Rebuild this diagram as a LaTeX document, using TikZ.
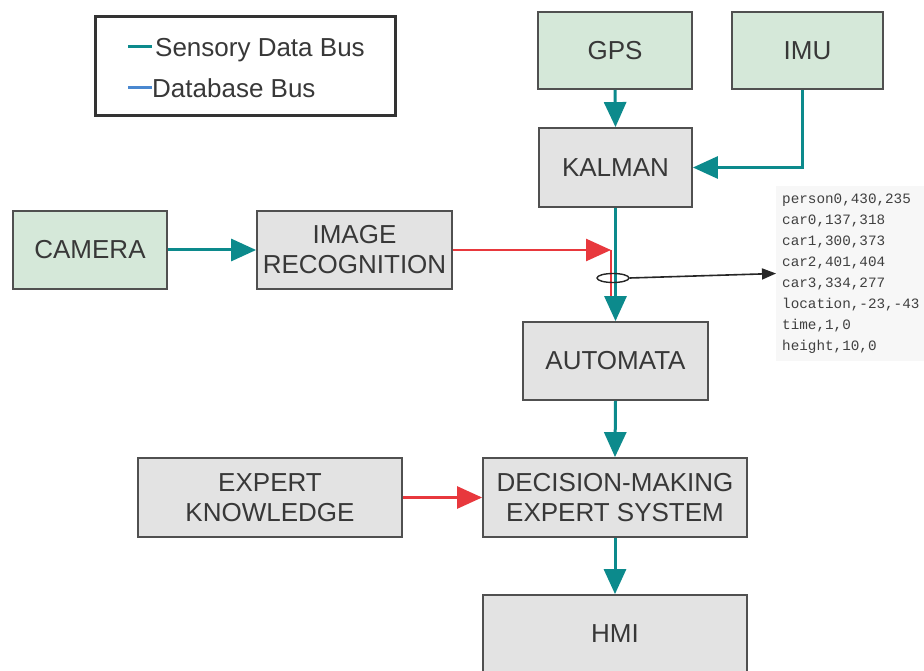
\documentclass[tikz,border=0pt]{standalone}
\usepackage{fontspec}
\setmainfont{Liberation Sans}
\newfontfamily\codefont{Liberation Mono}
\usetikzlibrary{arrows.meta,shapes.geometric}

\definecolor{busteal}{HTML}{0C8A8C}
\definecolor{busred}{HTML}{E8383D}
\definecolor{busblue}{HTML}{4A88D0}
\definecolor{sensorfill}{HTML}{D5E8D9}
\definecolor{procfill}{HTML}{E3E3E3}
\definecolor{edgegray}{HTML}{505050}
\definecolor{labelgray}{HTML}{383838}

\tikzset{
  blockbase/.style={draw=edgegray, line width=1.8pt, inner sep=0pt,
    align=center, text=labelgray,
    font=\fontsize{26}{30}\selectfont},
  sensor/.style={blockbase, fill=sensorfill},
  proc/.style={blockbase, fill=procfill},
  legendtext/.style={anchor=base west, inner sep=0pt, text=labelgray,
    font=\fontsize{26}{30}\selectfont},
  tealbus/.style={draw=busteal, line width=3pt,
    -{Triangle[width=22pt,length=25pt]}},
  redbus/.style={draw=busred, line width=2.6pt,
    -{Triangle[width=22pt,length=25pt]}},
  redline/.style={draw=busred, line width=2.6pt},
  probe/.style={draw=black!85, line width=1.6pt,
    -{Triangle[width=11pt,length=14pt]}},
}

\begin{document}
\begin{tikzpicture}[x=1pt, y=-1pt]
  \useasboundingbox (0,0) rectangle (924,671);
  \clip (0,0) rectangle (924,671);
  \fill[white] (0,0) rectangle (924,671);

  % legend
  \node[draw=black!80, line width=3pt, minimum width=300pt, minimum height=99pt,
        inner sep=0pt] (legend) at (245,66.5) {};
  \draw[busteal, line width=3pt] (128,47) -- (152,47);
  \node[legendtext] (lsens) at (155,56.5) {Sensory Data Bus};
  \draw[busblue, line width=3pt] (128,88) -- (152,88);
  \node[legendtext] (ldb) at (152,97.5) {Database Bus};

  % sensors
  \node[sensor, minimum width=154pt, minimum height=77pt] (gps) at (615,50.5) {GPS};
  \node[sensor, minimum width=151pt, minimum height=77pt] (imu) at (807.5,50.5) {IMU};
  \node[sensor, minimum width=154pt, minimum height=78pt] (camera) at (90,250) {CAMERA};

  % processing blocks
  \node[proc, minimum width=153pt, minimum height=79pt] (kalman) at (615.5,167.5) {KALMAN};
  \node[proc, minimum width=195pt, minimum height=78pt] (imgrec) at (354.5,250) {IMAGE\\RECOGNITION};
  \node[proc, minimum width=185pt, minimum height=78pt] (automata) at (615.5,361) {AUTOMATA};
  \node[proc, minimum width=264pt, minimum height=79pt] (expert) at (270,497.5) {EXPERT\\KNOWLEDGE};
  \node[proc, minimum width=264pt, minimum height=79pt] (decision) at (615,497.5) {DECISION-MAKING\\EXPERT SYSTEM};
  \node[proc, minimum width=264pt, minimum height=77pt] (hmi) at (615,633.5) {HMI};

  % object list carried on the bus
  \node[fill=black!3, anchor=west, inner xsep=6pt, inner ysep=7pt,
        align=left, text=black!75, minimum height=175pt,
        font=\codefont\fontsize{14.3}{21}\selectfont] (objlist) at (776,273.5)
    {person0,430,235\\car0,137,318\\car1,300,373\\car2,401,404\\car3,334,277\\location,-23,-43\\time,1,0\\height,10,0};

  % sensory data bus
  \draw[tealbus] (gps.south) -- (kalman.north);
  \draw[tealbus] ([xshift=-5.5pt]imu.south) |- (kalman.east);
  \draw[tealbus] (camera.east) -- (imgrec.west);

  % recognition output joining the bus
  \coordinate (join) at (611,250);
  \coordinate (joinend) at (611,308);
  \draw[redline] (join) -- (joinend);
  \draw[redbus] (imgrec.east) -- (join);
  \draw[tealbus] (kalman.south) -- (automata.north);

  % tap on the merged bus
  \node[ellipse, draw=black!85, line width=1.4pt, fill=none,
        minimum width=32pt, minimum height=9pt, inner sep=0pt] (tap) at (613,278) {};
  \draw[probe] (tap.east) -- (objlist.west);

  \draw[tealbus] (automata.south) -- (decision.north);
  \draw[redbus] (expert.east) -- (decision.west);
  \draw[tealbus] (decision.south) -- (hmi.north);
\end{tikzpicture}
\end{document}
